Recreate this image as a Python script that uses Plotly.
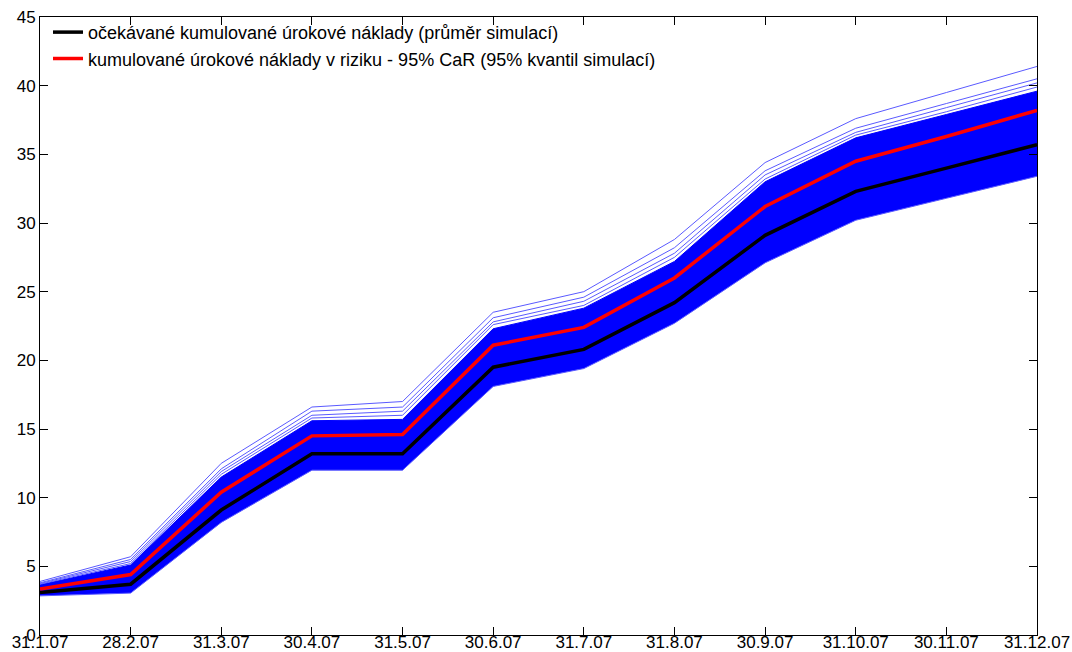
import plotly.graph_objects as go

dates = ["31.1.07", "28.2.07", "31.3.07", "30.4.07", "31.5.07", "30.6.07",
         "31.7.07", "31.8.07", "30.9.07", "31.10.07", "30.11.07", "31.12.07"]

mean_cost = [3.1, 3.7, 9.1, 13.2, 13.2, 19.5, 20.8, 24.2, 29.1, 32.3, 34.0, 35.7]
car_95 = [3.35, 4.4, 10.4, 14.5, 14.6, 21.1, 22.4, 26.0, 31.2, 34.5, 36.3, 38.2]

sim_lower = [2.85, 3.05, 8.2, 12.0, 12.0, 18.1, 19.4, 22.7, 27.1, 30.2, 31.8, 33.4]
sim_dense_upper = [3.65, 5.1, 11.5, 15.6, 15.7, 22.3, 23.8, 27.2, 33.0, 36.2, 37.9, 39.6]
sim_path_a = [3.9, 5.7, 12.5, 16.6, 17.0, 23.5, 25.0, 28.8, 34.4, 37.6, 39.5, 41.4]
sim_path_b = [3.8, 5.5, 12.1, 16.3, 16.6, 23.1, 24.6, 28.2, 33.8, 36.9, 38.7, 40.5]
sim_path_c = [3.75, 5.35, 11.9, 16.0, 16.3, 22.8, 24.3, 27.8, 33.5, 36.6, 38.4, 40.2]
sim_path_d = [3.7, 5.2, 11.7, 15.8, 16.0, 22.6, 24.0, 27.5, 33.2, 36.4, 38.1, 39.9]

x = list(range(len(dates)))
BLUE = "rgb(0,0,255)"
THIN = "rgb(90,90,255)"
FONT = "Liberation Sans, Arial, sans-serif"

fig = go.Figure()

fig.add_trace(go.Scatter(x=x, y=sim_lower, mode="lines",
                         line=dict(color=THIN, width=1), showlegend=False,
                         hoverinfo="skip"))
fig.add_trace(go.Scatter(x=x, y=sim_dense_upper, mode="lines",
                         line=dict(color=BLUE, width=1), fill="tonexty",
                         fillcolor=BLUE, showlegend=False, hoverinfo="skip"))
for p in (sim_path_d, sim_path_c, sim_path_b, sim_path_a):
    fig.add_trace(go.Scatter(x=x, y=p, mode="lines",
                             line=dict(color=THIN, width=1), showlegend=False,
                             hoverinfo="skip"))

fig.add_trace(go.Scatter(x=x, y=mean_cost, mode="lines",
                         line=dict(color="black", width=3.5),
                         name="očekávané kumulované úrokové náklady (průměr simulací)"))
fig.add_trace(go.Scatter(x=x, y=car_95, mode="lines",
                         line=dict(color="red", width=3.5),
                         name="kumulované úrokové náklady v riziku - 95% CaR (95% kvantil simulací)"))

axis_common = dict(
    showgrid=False, zeroline=False, showline=True, linecolor="black",
    linewidth=1, mirror="ticks", ticks="inside", ticklen=8,
    tickcolor="black", tickwidth=1,
    tickfont=dict(family=FONT, size=17, color="black"),
)

fig.update_layout(
    width=1072, height=652,
    margin=dict(l=40, r=35, t=17, b=17, autoexpand=False),
    paper_bgcolor="white", plot_bgcolor="white",
    xaxis=dict(range=[0, 11], tickmode="array", tickvals=x, ticktext=dates,
               ticklabelstandoff=-8, **axis_common),
    yaxis=dict(range=[0, 45], tickmode="array",
               tickvals=[0, 5, 10, 15, 20, 25, 30, 35, 40, 45],
               **axis_common),
    legend=dict(x=0.008, y=1.005, xanchor="left", yanchor="top",
                bgcolor="rgba(0,0,0,0)", borderwidth=0, traceorder="normal",
                font=dict(family=FONT, size=18, color="black"),
                tracegroupgap=0, itemwidth=30),
    showlegend=True,
)

fig.write_html("out.html",
               config={"displayModeBar": False},
               post_script="document.body.style.margin='0';"
                           "document.body.style.overflow='hidden';")
